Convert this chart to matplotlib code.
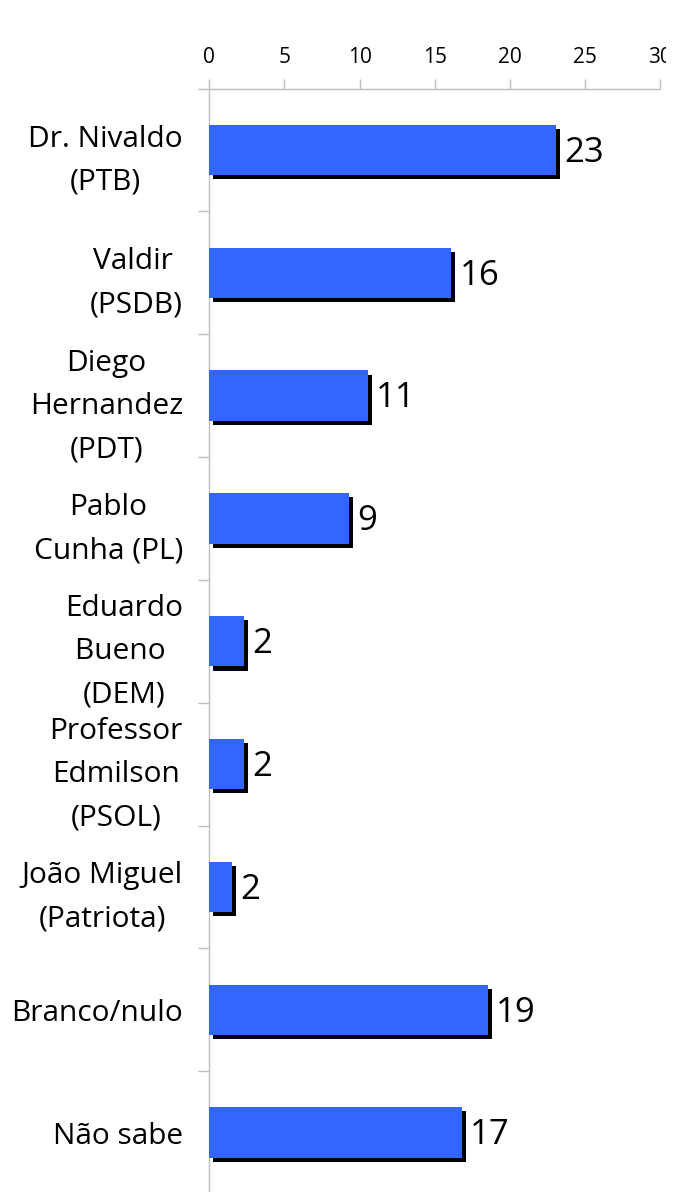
import matplotlib
matplotlib.use("Agg")
import matplotlib.pyplot as plt
import matplotlib.patheffects as pe
from matplotlib.transforms import Bbox, TransformedBbox

categories = ["Dr. Nivaldo\n(PTB)", "Valdir \n(PSDB)", "Diego\nHernandez\n(PDT)",
              "Pablo\nCunha (PL)", "Eduardo\nBueno \n(DEM)", "Professor\nEdmilson\n(PSOL)",
              "João Miguel\n(Patriota)", "Branco/nulo", "Não sabe"]
values = [23.1, 16.1, 10.55, 9.3, 2.3, 2.3, 1.5, 18.55, 16.8]
value_labels = ["23", "16", "11", "9", "2", "2", "2", "19", "17"]
xticks = [0, 5, 10, 15, 20, 25, 30]

FONT = "Open Sans"
plt.rcParams["font.family"] = [FONT, "DejaVu Sans"]

W, H = 674, 1192
fig = plt.figure(figsize=(W / 100, H / 100), dpi=100)
left = 209.3 / W
right = 660 / W
top = 1 - 88.6 / H
bottom = 1 - 1194 / H
ax = fig.add_axes([left, bottom, right - left, top - bottom])

ypos = list(range(len(categories)))
shadow = [pe.SimplePatchShadow(offset=(2.9, -2.9), shadow_rgbFace="black", alpha=1.0), pe.Normal()]
bars = ax.barh(ypos, values, height=0.41, color="#3366FF", zorder=3)
for b in bars:
    b.set_path_effects(shadow)

for y, v, lab in zip(ypos, values, value_labels):
    ax.annotate(lab, xy=(v, y), xytext=(6, -2), textcoords="offset points",
                ha="left", va="center", fontsize=25, color="black")

ax.set_xlim(0, 30)
ax.set_ylim(len(categories) - 0.5, -0.5)
ax.xaxis.tick_top()
ax.set_xticks(xticks)
ax.set_xticklabels([str(t) for t in xticks])
ax.tick_params(axis="x", which="major", length=7, width=1, color="#BFBFBF",
               labelsize=15, pad=8, labelcolor="black")

ax.set_yticks(ypos)
ax.set_yticklabels(categories, fontsize=21.5, multialignment="center", linespacing=1.65)
ax.set_yticks([i - 0.5 for i in range(len(categories) + 1)], minor=True)
ax.tick_params(axis="y", which="major", length=0, pad=19)
ax.tick_params(axis="y", which="minor", length=8, width=1, color="#BFBFBF")

for s in ["right", "bottom"]:
    ax.spines[s].set_visible(False)
for s in ["left", "top"]:
    ax.spines[s].set_color("#BFBFBF")
    ax.spines[s].set_linewidth(1)

fig.canvas.draw()
clip = TransformedBbox(Bbox([[0, 0], [666 / W, 1]]), fig.transFigure)
for t in ax.get_xticklabels():
    if t.get_text() == "30":
        t.set_clip_box(clip)
        t.set_clip_on(True)

fig.savefig("out.png", dpi=100)
